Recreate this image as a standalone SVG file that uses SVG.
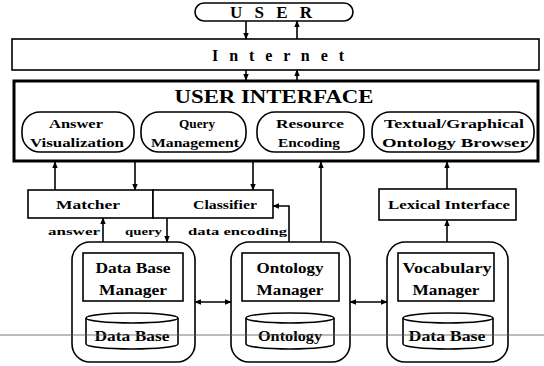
<svg xmlns="http://www.w3.org/2000/svg" width="544" height="366" viewBox="0 0 544 366">
  <defs>
    <marker id="ah" viewBox="0 0 10 10" refX="9" refY="5" markerWidth="7" markerHeight="7" orient="auto-start-reverse" markerUnits="userSpaceOnUse">
      <path d="M0,1 L10,5 L0,9 Z" fill="#000"/>
    </marker>
    <style>
      .box { fill: #fff; stroke: #000; stroke-width: 1.6; }
      .thick { fill: #fff; stroke: #000; stroke-width: 3; }
      .t { font-family: "Liberation Serif", "Times New Roman", serif; font-weight: bold; fill: #000; text-anchor: middle; }
      .s13 { font-size: 13px; }
      .s14 { font-size: 14px; }
      .lbl { font-size: 11px; text-anchor: start; }
      .wire { fill: none; stroke: #000; stroke-width: 1.6; }
    </style>
  </defs>
  <rect width="544" height="366" fill="#fff"/>

  <g id="user">
    <rect class="box" x="195" y="3" width="158" height="18" rx="9"/>
    <text class="t" x="271" y="18" font-size="17" font-weight="normal" textLength="82" lengthAdjust="spacing">U S E R</text>
  </g>

  <g id="internet">
    <rect class="box" x="12" y="39" width="527" height="31"/>
    <text class="t" x="278" y="61" font-size="16" font-weight="normal" textLength="132" lengthAdjust="spacing">I n t e r n e t</text>
  </g>

  <g id="user-interface">
    <rect class="thick" x="14" y="81" width="524" height="80"/>
    <text class="t" x="274" y="103" font-size="18" textLength="199" lengthAdjust="spacingAndGlyphs">USER INTERFACE</text>
  </g>

  <g id="answer-visualization">
    <rect class="box" x="22" y="112" width="112" height="40" rx="18"/>
    <text class="t s13" x="76" y="128" textLength="54" lengthAdjust="spacingAndGlyphs">Answer</text>
    <text class="t s13" x="77" y="147" textLength="94" lengthAdjust="spacingAndGlyphs">Visualization</text>
  </g>
  <g id="query-management">
    <rect class="box" x="141" y="112" width="105" height="40" rx="18"/>
    <text class="t s13" x="197" y="128" textLength="36" lengthAdjust="spacingAndGlyphs">Query</text>
    <text class="t s13" x="195" y="147" textLength="88" lengthAdjust="spacingAndGlyphs">Management</text>
  </g>
  <g id="resource-encoding">
    <rect class="box" x="257" y="112" width="107" height="40" rx="18"/>
    <text class="t s13" x="310" y="128" textLength="68" lengthAdjust="spacingAndGlyphs">Resource</text>
    <text class="t s13" x="309" y="147" textLength="62" lengthAdjust="spacingAndGlyphs">Encoding</text>
  </g>
  <g id="ontology-browser">
    <rect class="box" x="372" y="112" width="162" height="40" rx="18"/>
    <text class="t s13" x="454" y="128" textLength="140" lengthAdjust="spacingAndGlyphs">Textual/Graphical</text>
    <text class="t s13" x="455" y="147" textLength="146" lengthAdjust="spacingAndGlyphs">Ontology Browser</text>
  </g>

  <g id="matcher">
    <rect class="box" x="28" y="190" width="125" height="28"/>
    <text class="t s13" x="88" y="209" textLength="64" lengthAdjust="spacingAndGlyphs">Matcher</text>
  </g>
  <g id="classifier">
    <rect class="box" x="153" y="190" width="120" height="28"/>
    <text class="t s13" x="225" y="209" textLength="64" lengthAdjust="spacingAndGlyphs">Classifier</text>
  </g>
  <g id="lexical-interface">
    <rect class="box" x="379" y="189" width="137" height="31"/>
    <text class="t s13" x="449" y="209" textLength="122" lengthAdjust="spacingAndGlyphs">Lexical Interface</text>
  </g>

  <g id="data-base-manager">
    <rect class="box" x="72" y="242" width="123" height="120" rx="18"/>
    <rect class="box" x="83" y="253" width="100" height="48"/>
    <text class="t s14" x="133" y="273" textLength="75" lengthAdjust="spacingAndGlyphs">Data Base</text>
    <text class="t s14" x="133" y="295" textLength="68" lengthAdjust="spacingAndGlyphs">Manager</text>
    <path class="box" d="M86,318 A46,5 0 0 1 178,318 V344 A46,5 0 0 1 86,344 Z"/>
    <path class="wire" d="M86,318 A46,5 0 0 0 178,318"/>
    <text class="t s14" x="132" y="341" textLength="75" lengthAdjust="spacingAndGlyphs">Data Base</text>
  </g>

  <g id="ontology-manager">
    <rect class="box" x="231" y="242" width="119" height="120" rx="18"/>
    <rect class="box" x="242" y="253" width="97" height="48"/>
    <text class="t s14" x="290" y="273" textLength="67" lengthAdjust="spacingAndGlyphs">Ontology</text>
    <text class="t s14" x="290" y="295" textLength="67" lengthAdjust="spacingAndGlyphs">Manager</text>
    <path class="box" d="M246,318 A44,5 0 0 1 334,318 V344 A44,5 0 0 1 246,344 Z"/>
    <path class="wire" d="M246,318 A44,5 0 0 0 334,318"/>
    <text class="t s14" x="290" y="341" textLength="64" lengthAdjust="spacingAndGlyphs">Ontology</text>
  </g>

  <g id="vocabulary-manager">
    <rect class="box" x="387" y="242" width="121" height="120" rx="18"/>
    <rect class="box" x="398" y="253" width="96" height="48"/>
    <text class="t s14" x="447" y="273" textLength="89" lengthAdjust="spacingAndGlyphs">Vocabulary</text>
    <text class="t s14" x="446" y="295" textLength="67" lengthAdjust="spacingAndGlyphs">Manager</text>
    <path class="box" d="M403,318 A45,5 0 0 1 493,318 V344 A45,5 0 0 1 403,344 Z"/>
    <path class="wire" d="M403,318 A45,5 0 0 0 493,318"/>
    <text class="t s14" x="447" y="341" textLength="77" lengthAdjust="spacingAndGlyphs">Data Base</text>
  </g>

  <g id="connectors">
    <line class="wire" x1="246" y1="21" x2="246" y2="39" marker-end="url(#ah)"/>
    <line class="wire" x1="297" y1="39" x2="297" y2="21" marker-end="url(#ah)"/>
    <line class="wire" x1="246" y1="70" x2="246" y2="80" marker-end="url(#ah)"/>
    <line class="wire" x1="297" y1="80" x2="297" y2="70" marker-end="url(#ah)"/>

    <line class="wire" x1="55" y1="190" x2="55" y2="162" marker-end="url(#ah)"/>
    <line class="wire" x1="135" y1="162" x2="135" y2="190" marker-end="url(#ah)"/>
    <line class="wire" x1="253" y1="162" x2="253" y2="190" marker-end="url(#ah)"/>
    <line class="wire" x1="321" y1="242" x2="321" y2="162" marker-end="url(#ah)"/>
    <line class="wire" x1="447" y1="189" x2="447" y2="162" marker-end="url(#ah)"/>
    <line class="wire" x1="447" y1="242" x2="447" y2="220" marker-end="url(#ah)"/>

    <line class="wire" x1="103" y1="242" x2="103" y2="218" marker-end="url(#ah)"/>
    <line class="wire" x1="167" y1="218" x2="167" y2="242" marker-end="url(#ah)"/>
    <path class="wire" d="M289,242 V206 H273" marker-end="url(#ah)"/>

    <line class="wire" x1="195" y1="302" x2="231" y2="302" marker-start="url(#ah)" marker-end="url(#ah)"/>
    <line class="wire" x1="350" y1="302" x2="387" y2="302" marker-start="url(#ah)" marker-end="url(#ah)"/>

    <text class="t lbl" x="48" y="235" textLength="52" lengthAdjust="spacingAndGlyphs">answer</text>
    <text class="t lbl" x="125" y="235" textLength="37" lengthAdjust="spacingAndGlyphs">query</text>
    <text class="t lbl" x="188" y="235" textLength="99" lengthAdjust="spacingAndGlyphs">data encoding</text>
  </g>

  <line x1="0" y1="335" x2="544" y2="335" stroke="#555" stroke-width="0.8"/>
</svg>
